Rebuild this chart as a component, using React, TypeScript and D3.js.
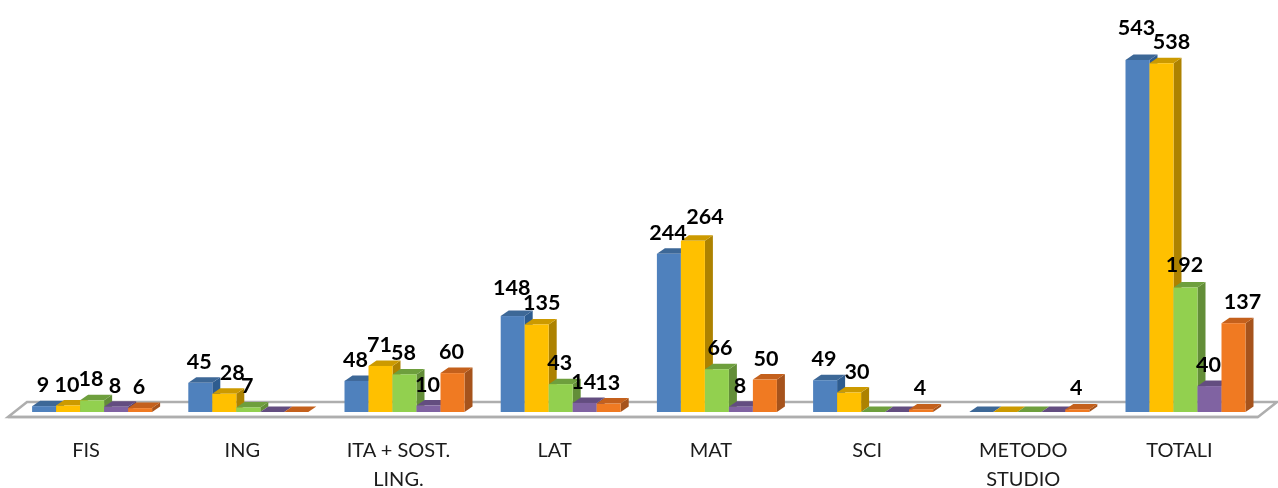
import React from "react";
import * as d3 from "d3";

const categories = [["FIS"], ["ING"], ["ITA + SOST.", "LING."], ["LAT"], ["MAT"], ["SCI"], ["METODO", "STUDIO"], ["TOTALI"]];
const seriesA = [9, 45, 48, 148, 244, 49, 0, 543];
const seriesB = [10, 28, 71, 135, 264, 30, 0, 538];
const seriesC = [18, 7, 58, 43, 66, 0, 0, 192];
const seriesD = [8, 0, 10, 14, 8, 0, 0, 40];
const seriesE = [6, 0, 60, 13, 50, 4, 4, 137];
const allSeries = [seriesA, seriesB, seriesC, seriesD, seriesE];
const fronts = ["#4F81BD", "#FFC000", "#92D050", "#8064A2", "#F07A24"];
const tops = ["#3E6797", "#CC9A00", "#6E9F3E", "#644E80", "#C4611A"];
const sides = ["#2F5C8F", "#AD8200", "#648E38", "#553F70", "#A6521A"];

// Manual nudges of the overlapping data labels: "series-category": [dx, dy]
const labelNudges: Record<string, [number, number]> = {
  "1-1": [9, 0], "1-3": [6, 0], "1-4": [13, -3], "1-5": [9, 0], "1-7": [11, 0],
  "4-4": [2, 0], "4-7": [10, 0], "2-4": [4, 0], "0-7": [0, -11], "0-3": [0, -7], "2-7": [0, -2],
};

const W = 1278, H = 488, baseY = 412, depthX = 8, depthY = 5.5;

export default function App() {
  const x = d3.scaleBand<number>().domain(d3.range(categories.length)).range([14, 1263.6]);
  const inner = d3.scaleBand<number>().domain(d3.range(allSeries.length)).range([-60, 60]);
  const y = d3.scaleLinear().domain([0, 543]).range([baseY, 60]);
  const bw = inner.bandwidth();
  const poly = d3.line();
  const floor = poly([[27, 402], [1277, 402], [1258, 417], [8, 417]]) + "Z";
  return (
    <svg width={W} height={H} style={{ position: "absolute", left: 0, top: 0, background: "#fff" }}>
      <defs>
        <filter id="soft" x="-5%" y="-5%" width="110%" height="110%">
          <feGaussianBlur stdDeviation="0.55" />
        </filter>
      </defs>
      <g filter="url(#soft)">
        <path d={floor} fill="#fff" stroke="#AEAEAE" strokeWidth={2.5} />
        {categories.map((_, c) => (
          <g key={c}>
            {allSeries.map((s, i) => {
              const cx = (x(c) as number) + x.bandwidth() / 2;
              const l = cx + (inner(i) as number);
              const r = l + bw;
              const t = y(s[c]);
              return (
                <g key={i}>
                  <path d={poly([[r, t], [r + depthX, t - depthY], [r + depthX, baseY - depthY], [r, baseY]]) + "Z"} fill={sides[i]} />
                  <path d={poly([[l, t], [l + depthX, t - depthY], [r + depthX, t - depthY], [r, t]]) + "Z"} fill={tops[i]} />
                  <rect x={l} y={t} width={bw} height={baseY - t} fill={fronts[i]} />
                </g>
              );
            })}
          </g>
        ))}
        <path d={poly([[8, 417], [1258, 417]]) as string} stroke="#AEAEAE" strokeWidth={2.5} fill="none" />
        {categories.map((_, c) =>
          allSeries.map((s, i) => {
            if (s[c] === 0) return null;
            const cx = (x(c) as number) + x.bandwidth() / 2 + (inner(i) as number) + bw / 2;
            const n = labelNudges[`${i}-${c}`] ?? [0, 0];
            return (
              <text key={`${c}-${i}`} x={cx + n[0] - 1} y={y(s[c]) - 14 + n[1]} textAnchor="middle"
                fontFamily="Lato, sans-serif" fontWeight={700} fontSize={21.5} fill="#000">
                {s[c]}
              </text>
            );
          })
        )}
        {categories.map((lines, c) =>
          lines.map((ln, j) => (
            <text key={`${c}-${j}`} x={(x(c) as number) + x.bandwidth() / 2 - 6} y={457 + j * 29} textAnchor="middle"
              fontFamily="Lato, sans-serif" fontSize={20} fill="#1a1a1a">
              {ln}
            </text>
          ))
        )}
      </g>
    </svg>
  );
}
